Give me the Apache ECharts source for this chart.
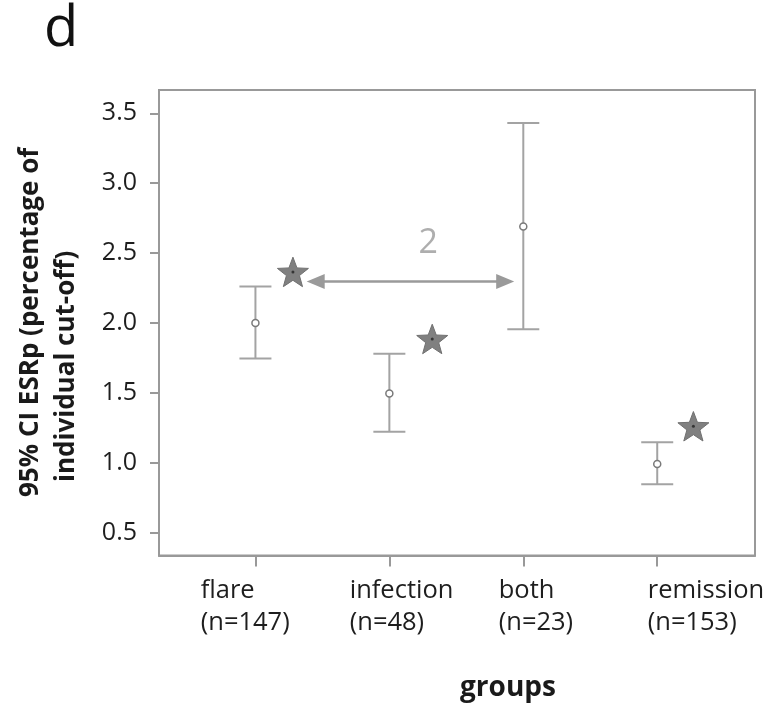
<!DOCTYPE html>
<html>
<head>
<meta charset="utf-8">
<script src="https://cdn.jsdelivr.net/npm/echarts@6/dist/echarts.min.js"></script>
<style>
html, body { margin: 0; padding: 0; background: #fff; }
#main { width: 772px; height: 707px; }
</style>
</head>
<body>
<div id="main"></div>
<script>
// groups on the x axis
var groups = ['flare', 'infection', 'both', 'remission'];
var counts = [147, 48, 23, 153];
var groupPos = [1, 2, 3, 4];
// 95% CI of ESRp per group
var means = [2.0, 1.495, 2.69, 0.99];
var lower = [1.745, 1.22, 1.955, 0.845];
var upper = [2.26, 1.78, 3.43, 1.145];
// stars next to flare, infection and remission
var starX = [1.28, 2.32, 4.27];
var starY = [2.365, 1.885, 1.26];
var yTicks = [0.5, 1.0, 1.5, 2.0, 2.5, 3.0, 3.5];
// double arrow between flare and both + its label
var arrowFrom = [1.45, 2.296];
var arrowTo = [2.865, 2.296];
var arrowLabel = '2';
var arrowLabelPos = [2.29, 2.57];

var myChart = echarts.init(document.getElementById('main'));
var font = '"Open Sans", "Noto Sans", sans-serif';
var axisGrey = '#999';

// five pointed star
function starPath() {
    var pts = [];
    for (var i = 0; i < 10; i++) {
        var r = i % 2 ? 21 : 50;
        var a = Math.PI / 5 * i - Math.PI / 2;
        pts.push((50 + r * Math.cos(a)).toFixed(2) + ' ' + (50 + r * Math.sin(a)).toFixed(2));
    }
    return 'path://M' + pts.join(' L') + ' Z';
}

var ciData = groupPos.map(function (x, i) {
    return [x, lower[i], upper[i], means[i]];
});
var starData = starX.map(function (x, i) {
    return [x, starY[i]];
});

var option = {
    animation: false,
    backgroundColor: '#fff',
    grid: {
        show: true,
        left: 159,
        right: 17,
        top: 90,
        bottom: 151.5,
        borderColor: axisGrey,
        borderWidth: 2,
        containLabel: false
    },
    xAxis: [{
        type: 'value',
        min: 0.28,
        max: 4.73,
        splitLine: { show: false },
        axisLine: { show: true, lineStyle: { color: axisGrey, width: 2 } },
        axisTick: { show: true, length: 11, customValues: groupPos, lineStyle: { color: axisGrey, width: 2 } },
        axisLabel: { show: false }
    }, {
        // only carries the group labels (they sit a bit off the ticks)
        type: 'value',
        min: 0.72,
        max: 4.72,
        position: 'bottom',
        splitLine: { show: false },
        axisLine: { show: false },
        axisTick: { show: false },
        axisLabel: {
            customValues: groupPos,
            formatter: function (v) {
                var i = groupPos.indexOf(v);
                return groups[i] + '\n(n=' + counts[i] + ')';
            },
            align: 'left',
            margin: 19,
            fontSize: 25.5,
            lineHeight: 32,
            color: '#1e1e1e',
            fontFamily: font
        }
    }],
    yAxis: {
        type: 'value',
        min: 0.335,
        max: 3.667,
        splitLine: { show: false },
        axisLine: { show: true, lineStyle: { color: axisGrey, width: 2 } },
        axisTick: { show: true, length: 9, customValues: yTicks, lineStyle: { color: axisGrey, width: 2 } },
        axisLabel: {
            customValues: yTicks,
            formatter: function (v) { return v.toFixed(1); },
            margin: 22,
            fontSize: 25,
            color: '#1e1e1e',
            fontFamily: font
        }
    },
    series: [{
        type: 'custom',
        name: 'ci',
        xAxisIndex: 0,
        data: ciData,
        encode: { x: 0, y: [1, 2, 3] },
        renderItem: function (params, api) {
            var x = api.value(0);
            var lo = api.coord([x, api.value(1)]);
            var hi = api.coord([x, api.value(2)]);
            var mid = api.coord([x, api.value(3)]);
            var w = 16;
            var st = { stroke: '#a3a3a3', lineWidth: 2 };
            return {
                type: 'group',
                children: [
                    { type: 'line', shape: { x1: lo[0], y1: lo[1], x2: hi[0], y2: hi[1] }, style: st },
                    { type: 'line', shape: { x1: lo[0] - w, y1: lo[1], x2: lo[0] + w, y2: lo[1] }, style: st },
                    { type: 'line', shape: { x1: hi[0] - w, y1: hi[1], x2: hi[0] + w, y2: hi[1] }, style: st },
                    { type: 'circle', shape: { cx: mid[0], cy: mid[1], r: 3.5 }, style: { fill: '#fff', stroke: '#7a7a7a', lineWidth: 1.5 } }
                ]
            };
        }
    }, {
        type: 'scatter',
        name: 'star',
        xAxisIndex: 0,
        data: starData,
        symbol: starPath(),
        symbolKeepAspect: true,
        symbolSize: 31,
        itemStyle: { color: '#808080', borderColor: '#707070', borderWidth: 1, opacity: 1 }
    }, {
        type: 'scatter',
        name: 'star centre',
        xAxisIndex: 0,
        data: starData,
        symbol: 'circle',
        symbolSize: 3,
        itemStyle: { color: '#222' }
    }, {
        type: 'scatter',
        name: 'arrow',
        xAxisIndex: 0,
        data: [[arrowLabelPos[0], arrowLabelPos[1], arrowLabel]],
        symbolSize: 0,
        label: {
            show: true,
            position: 'inside',
            formatter: function (p) { return p.value[2]; },
            fontSize: 34,
            color: '#9a9a9a',
            fontFamily: font
        },
        markLine: {
            silent: true,
            symbol: ['triangle', 'triangle'],
            symbolSize: [15, 18],
            lineStyle: { color: '#9a9a9a', width: 2.5, type: 'solid' },
            label: { show: false },
            data: [[{ coord: arrowFrom }, { coord: arrowTo }]]
        }
    }],
    graphic: [{
        type: 'text',
        x: 44,
        y: 30,
        style: { text: 'd', font: '56px ' + font, fill: '#111', verticalAlign: 'middle' }
    }, {
        type: 'text',
        x: 31,
        y: 497,
        rotation: Math.PI / 2,
        style: { text: '95% CI ESRp (percentage of', font: 'bold 26px ' + font, fill: '#1a1a1a', align: 'left', verticalAlign: 'middle' }
    }, {
        type: 'text',
        x: 67,
        y: 482,
        rotation: Math.PI / 2,
        style: { text: 'individual cut-off)', font: 'bold 26px ' + font, fill: '#1a1a1a', align: 'left', verticalAlign: 'middle' }
    }, {
        type: 'text',
        x: 508,
        y: 688,
        style: { text: 'groups', font: 'bold 28px ' + font, fill: '#1a1a1a', align: 'center', verticalAlign: 'middle' }
    }]
};

myChart.setOption(option);
</script>
</body>
</html>
